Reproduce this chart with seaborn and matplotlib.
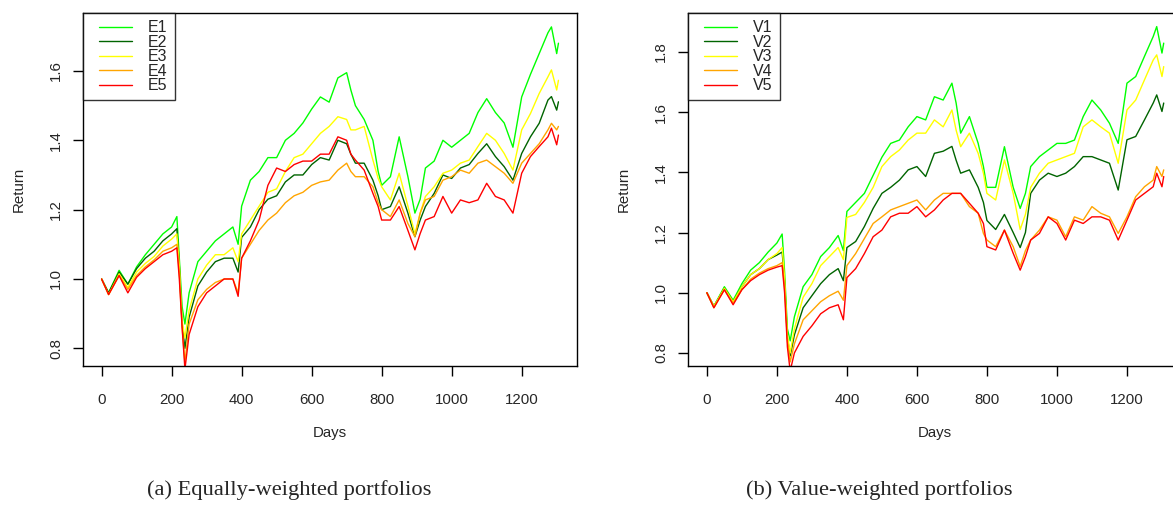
"""
Cumulative returns of equally- and value-weighted quintile portfolios
"""

import matplotlib
matplotlib.use("Agg")
import matplotlib.pyplot as plt
import pandas as pd
import seaborn as sns
from matplotlib.lines import Line2D
from matplotlib.legend_handler import HandlerBase

# sampled trading days (same grid for both panels)
days = [0, 20, 50, 75, 100, 125, 150, 175, 200, 215,
        222, 230, 238, 250, 275, 300, 325, 350, 375, 390,
        400, 425, 450, 475, 500, 525, 550, 575, 600, 625,
        650, 675, 700, 712, 725, 750, 775, 790, 800, 825,
        850, 875, 895, 910, 925, 950, 975, 1000, 1025, 1050,
        1075, 1100, 1125, 1150, 1175, 1200, 1225, 1250, 1275, 1285,
        1300, 1305]

# equally-weighted portfolios
E1 = [1.00, 0.96, 1.025, 0.985, 1.035, 1.07, 1.10, 1.13, 1.15, 1.18,
      1.06, 0.92, 0.87, 0.96, 1.05, 1.08, 1.11, 1.13, 1.15, 1.10,
      1.21, 1.285, 1.31, 1.35, 1.35, 1.40, 1.42, 1.45, 1.49, 1.525,
      1.51, 1.58, 1.595, 1.545, 1.50, 1.46, 1.40, 1.31, 1.27, 1.295,
      1.41, 1.295, 1.19, 1.23, 1.32, 1.34, 1.40, 1.38, 1.40, 1.42,
      1.48, 1.52, 1.48, 1.45, 1.38, 1.525, 1.59, 1.65, 1.71, 1.727,
      1.65, 1.68]
E2 = [1.00, 0.96, 1.02, 0.985, 1.03, 1.06, 1.08, 1.11, 1.13, 1.145,
      1.04, 0.87, 0.80, 0.89, 0.98, 1.02, 1.05, 1.06, 1.06, 1.02,
      1.12, 1.15, 1.20, 1.23, 1.24, 1.28, 1.30, 1.30, 1.33, 1.35,
      1.343, 1.40, 1.39, 1.36, 1.334, 1.334, 1.285, 1.24, 1.20, 1.209,
      1.266, 1.19, 1.122, 1.17, 1.209, 1.247, 1.30, 1.29, 1.32, 1.33,
      1.362, 1.39, 1.353, 1.324, 1.285, 1.362, 1.41, 1.449, 1.516, 1.526,
      1.487, 1.511]
E3 = [1.00, 0.955, 1.015, 0.975, 1.02, 1.045, 1.065, 1.095, 1.115, 1.13,
      1.04, 0.88, 0.83, 0.91, 1.00, 1.04, 1.07, 1.07, 1.09, 1.05,
      1.13, 1.17, 1.21, 1.25, 1.26, 1.31, 1.35, 1.36, 1.39, 1.42,
      1.44, 1.468, 1.46, 1.43, 1.43, 1.44, 1.343, 1.29, 1.266, 1.228,
      1.305, 1.21, 1.13, 1.19, 1.238, 1.266, 1.305, 1.314, 1.334, 1.343,
      1.382, 1.42, 1.40, 1.362, 1.314, 1.43, 1.477, 1.535, 1.583, 1.603,
      1.545, 1.573]
E4 = [1.00, 0.955, 1.01, 0.97, 1.01, 1.035, 1.055, 1.08, 1.09, 1.10,
      1.02, 0.86, 0.76, 0.87, 0.94, 0.97, 0.99, 1.00, 1.00, 0.96,
      1.06, 1.10, 1.14, 1.17, 1.19, 1.22, 1.24, 1.25, 1.27, 1.28,
      1.285, 1.314, 1.334, 1.31, 1.295, 1.295, 1.266, 1.22, 1.20, 1.18,
      1.228, 1.16, 1.122, 1.19, 1.228, 1.238, 1.285, 1.295, 1.314, 1.305,
      1.334, 1.343, 1.324, 1.305, 1.276, 1.334, 1.362, 1.39, 1.43, 1.449,
      1.43, 1.44]
E5 = [1.00, 0.955, 1.01, 0.96, 1.005, 1.03, 1.05, 1.07, 1.08, 1.09,
      1.00, 0.86, 0.74, 0.84, 0.92, 0.96, 0.98, 1.00, 1.00, 0.95,
      1.06, 1.11, 1.17, 1.27, 1.32, 1.31, 1.33, 1.34, 1.34, 1.36,
      1.36, 1.41, 1.40, 1.36, 1.343, 1.314, 1.247, 1.209, 1.17, 1.17,
      1.209, 1.14, 1.084, 1.131, 1.17, 1.18, 1.238, 1.19, 1.228, 1.22,
      1.228, 1.276, 1.238, 1.228, 1.19, 1.305, 1.353, 1.382, 1.41, 1.435,
      1.387, 1.415]

# value-weighted portfolios
V1 = [1.00, 0.955, 1.02, 0.975, 1.03, 1.075, 1.10, 1.135, 1.165, 1.195,
      1.07, 0.88, 0.84, 0.92, 1.02, 1.06, 1.12, 1.15, 1.19, 1.14,
      1.27, 1.30, 1.33, 1.39, 1.45, 1.496, 1.507, 1.551, 1.585, 1.574,
      1.651, 1.64, 1.696, 1.63, 1.53, 1.585, 1.496, 1.419, 1.35, 1.35,
      1.485, 1.35, 1.28, 1.33, 1.419, 1.452, 1.474, 1.496, 1.496, 1.507,
      1.585, 1.64, 1.607, 1.563, 1.496, 1.696, 1.718, 1.785, 1.851, 1.884,
      1.796, 1.829]
V2 = [1.00, 0.955, 1.015, 0.97, 1.02, 1.06, 1.08, 1.11, 1.125, 1.135,
      1.04, 0.85, 0.79, 0.86, 0.95, 0.99, 1.03, 1.06, 1.08, 1.04,
      1.15, 1.17, 1.22, 1.28, 1.33, 1.35, 1.374, 1.408, 1.419, 1.386,
      1.463, 1.47, 1.486, 1.44, 1.397, 1.408, 1.35, 1.30, 1.24, 1.21,
      1.26, 1.20, 1.15, 1.20, 1.33, 1.374, 1.397, 1.386, 1.397, 1.419,
      1.452, 1.452, 1.441, 1.43, 1.341, 1.508, 1.519, 1.574, 1.63, 1.657,
      1.602, 1.63]
V3 = [1.00, 0.955, 1.015, 0.97, 1.02, 1.06, 1.08, 1.11, 1.13, 1.15,
      1.05, 0.86, 0.80, 0.88, 0.985, 1.03, 1.09, 1.12, 1.15, 1.11,
      1.25, 1.26, 1.30, 1.35, 1.419, 1.452, 1.474, 1.507, 1.53, 1.53,
      1.574, 1.551, 1.607, 1.54, 1.485, 1.53, 1.463, 1.397, 1.33, 1.308,
      1.441, 1.33, 1.21, 1.26, 1.35, 1.397, 1.43, 1.441, 1.452, 1.463,
      1.551, 1.574, 1.551, 1.53, 1.43, 1.607, 1.64, 1.707, 1.773, 1.79,
      1.718, 1.751]
V4 = [1.00, 0.95, 1.01, 0.965, 1.01, 1.045, 1.065, 1.08, 1.09, 1.10,
      1.02, 0.84, 0.77, 0.83, 0.91, 0.94, 0.97, 0.99, 1.005, 0.975,
      1.09, 1.13, 1.18, 1.23, 1.252, 1.275, 1.286, 1.297, 1.308, 1.275,
      1.308, 1.33, 1.33, 1.33, 1.33, 1.286, 1.264, 1.197, 1.175, 1.153,
      1.208, 1.153, 1.087, 1.14, 1.175, 1.208, 1.252, 1.241, 1.186, 1.252,
      1.241, 1.286, 1.264, 1.252, 1.197, 1.252, 1.319, 1.352, 1.374, 1.419,
      1.386, 1.408]
V5 = [1.00, 0.95, 1.01, 0.96, 1.01, 1.04, 1.06, 1.075, 1.085, 1.09,
      1.00, 0.82, 0.74, 0.80, 0.855, 0.89, 0.93, 0.95, 0.96, 0.91,
      1.05, 1.08, 1.13, 1.186, 1.208, 1.252, 1.264, 1.264, 1.286, 1.252,
      1.275, 1.308, 1.33, 1.33, 1.33, 1.297, 1.264, 1.23, 1.153, 1.142,
      1.208, 1.131, 1.075, 1.12, 1.175, 1.197, 1.252, 1.23, 1.175, 1.241,
      1.23, 1.252, 1.252, 1.241, 1.175, 1.241, 1.308, 1.33, 1.352, 1.397,
      1.352, 1.386]

colors = ["#00FF00", "#006400", "#FFFF00", "#FFA500", "#FF0000"]
panels = [
    (["E1", "E2", "E3", "E4", "E5"], [E1, E2, E3, E4, E5],
     (0.749, 1.767), [0.8, 1.0, 1.2, 1.4, 1.6], "(a) Equally-weighted portfolios"),
    (["V1", "V2", "V3", "V4", "V5"], [V1, V2, V3, V4, V5],
     (0.7565, 1.929), [0.8, 1.0, 1.2, 1.4, 1.6, 1.8], "(b) Value-weighted portfolios"),
]


class InsetLineHandler(HandlerBase):
    """legend line that starts a bit inside its handle box (R style)"""
    def create_artists(self, legend, orig_handle, xdescent, ydescent,
                       width, height, fontsize, trans):
        y = height / 2 - ydescent
        x0 = -xdescent + 0.2 * width
        line = Line2D([x0, -xdescent + width], [y, y],
                      color=orig_handle.get_color(),
                      lw=orig_handle.get_linewidth())
        line.set_transform(trans)
        return [line]


sns.set_style("white")
plt.rcParams["font.family"] = ["Liberation Sans", "DejaVu Sans"]

fig = plt.figure(figsize=(11.73, 5.05), dpi=100)
ax_pos = [[0.0708, 0.2752, 0.4211, 0.699], [0.5868, 0.2752, 0.4211, 0.699]]
caption_x = [0.247, 0.75]

for i, (names, series, ylim, yticks, caption) in enumerate(panels):
    ax = fig.add_axes(ax_pos[i])
    df = pd.DataFrame({"Days": days * 5,
                       "Return": sum(series, []),
                       "Portfolio": [n for n in names for _ in days]})
    sns.lineplot(data=df, x="Days", y="Return", hue="Portfolio",
                 palette=dict(zip(names, colors)), linewidth=1.0,
                 ax=ax, legend=False, sort=False)

    ax.set_xlim(-53, 1358)
    ax.set_ylim(*ylim)
    ax.set_xticks([0, 200, 400, 600, 800, 1000, 1200])
    ax.set_yticks(yticks)
    ax.set_yticklabels([f"{t:.1f}" for t in yticks], rotation=90, va="center")
    ax.tick_params(axis="both", direction="out", length=7.5, width=1,
                   color="black", labelsize=10.8, bottom=True, left=True)
    ax.tick_params(axis="x", pad=12)
    ax.tick_params(axis="y", pad=7)
    for s in ax.spines.values():
        s.set_color("black")
        s.set_linewidth(1.0)

    ax.set_xlabel("Days", fontsize=10.8)
    ax.set_ylabel("Return", fontsize=10.8)
    ax.xaxis.set_label_coords(0.5, -0.17)
    ax.yaxis.set_label_coords(-0.117, 0.5)

    handles = [Line2D([], [], color=c, lw=1.0) for c in colors]
    leg = ax.legend(handles, names, loc="upper left", bbox_to_anchor=(0, 1),
                    borderaxespad=0, fontsize=11.5, frameon=True,
                    fancybox=False, edgecolor="black", handlelength=2.6,
                    handletextpad=1.0, labelspacing=-0.03, borderpad=0.45,
                    handler_map={Line2D: InsetLineHandler()})
    leg.get_frame().set_linewidth(1.0)

    fig.text(caption_x[i], 0.03, caption, ha="center", va="center",
             fontsize=16.2, family=["Liberation Serif", "DejaVu Serif"])

fig.savefig("out.png", dpi=100)
plt.close(fig)
